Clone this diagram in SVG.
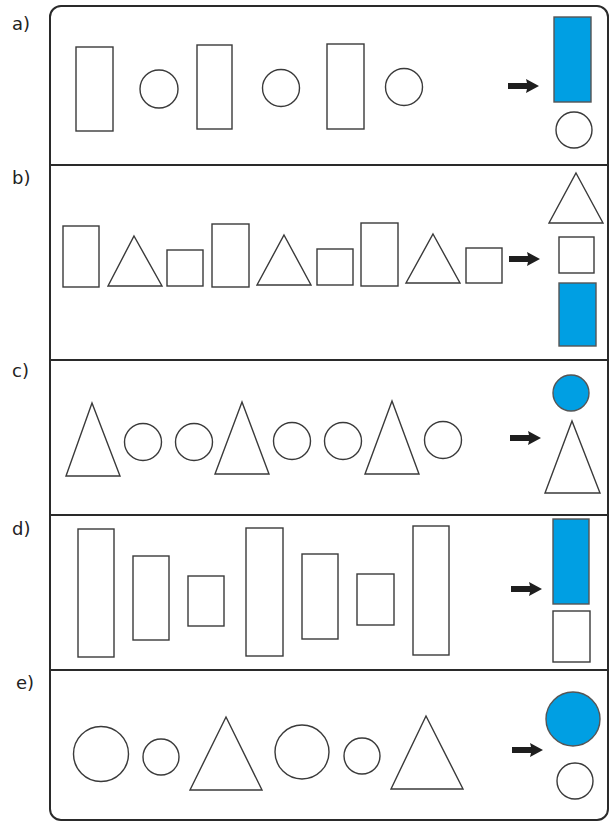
<svg xmlns="http://www.w3.org/2000/svg" width="613" height="822" viewBox="0 0 613 822">
<defs>
<style>
.s{fill:#fff;stroke:#3a3a3a;stroke-width:1.4}
.b{fill:#009fe3;stroke:#555;stroke-width:1.4}
.frame{fill:none;stroke:#2a2a2a;stroke-width:2}
.div{stroke:#2a2a2a;stroke-width:2}
.lbl{font-family:"DejaVu Sans","Liberation Sans",sans-serif;font-size:18px;fill:#222}
.arr{fill:#1e1e1e}
</style>
<g id="arrowShape"><path class="arr" d="M0,-3 L19,-3 L18,-7 L31,0 L18,7 L19,3 L0,3 Z"/></g>
</defs>
<rect width="613" height="822" fill="#fff"/>
<g id="frame">
<rect class="frame" x="50" y="6" width="558" height="814" rx="11" ry="11"/>
<line class="div" x1="50" y1="165" x2="608" y2="165"/>
<line class="div" x1="50" y1="360" x2="608" y2="360"/>
<line class="div" x1="50" y1="515" x2="608" y2="515"/>
<line class="div" x1="50" y1="670" x2="608" y2="670"/>
</g>
<g id="labels">
<text class="lbl" x="12" y="30">a)</text>
<text class="lbl" x="12" y="184">b)</text>
<text class="lbl" x="12" y="377">c)</text>
<text class="lbl" x="12" y="535">d)</text>
<text class="lbl" x="16" y="689">e)</text>
</g>
<g id="row-a">
<rect class="s" x="76" y="47" width="37" height="84"/>
<circle class="s" cx="159" cy="89" r="19"/>
<rect class="s" x="197" y="45" width="35" height="84"/>
<circle class="s" cx="281" cy="88" r="18.5"/>
<rect class="s" x="327" y="44" width="37" height="85"/>
<circle class="s" cx="404" cy="87" r="18.5"/>
<use href="#arrowShape" x="508" y="86"/>
<rect class="b" x="554" y="17" width="37" height="85"/>
<circle class="s" cx="574" cy="130" r="18"/>
</g>
<g id="row-b">
<rect class="s" x="63" y="226" width="36" height="61"/>
<polygon class="s" points="134,236 162,286 108,286"/>
<rect class="s" x="167" y="250" width="36" height="36"/>
<rect class="s" x="212" y="224" width="37" height="63"/>
<polygon class="s" points="284,235 311,285 257,285"/>
<rect class="s" x="317" y="249" width="36" height="36"/>
<rect class="s" x="361" y="223" width="37" height="63"/>
<polygon class="s" points="433,234 460,283 406,283"/>
<rect class="s" x="466" y="248" width="36" height="35"/>
<use href="#arrowShape" x="509" y="259"/>
<polygon class="s" points="576,173 603,223 549,223"/>
<rect class="s" x="559" y="237" width="35" height="36"/>
<rect class="b" x="559" y="283" width="37" height="63"/>
</g>
<g id="row-c">
<polygon class="s" points="92,403 120,476 66,476"/>
<circle class="s" cx="143" cy="442" r="18.5"/>
<circle class="s" cx="194" cy="442" r="18.5"/>
<polygon class="s" points="242,402 269,474 215,474"/>
<circle class="s" cx="292" cy="441" r="18.5"/>
<circle class="s" cx="343" cy="441" r="18.5"/>
<polygon class="s" points="392,401 419,474 365,474"/>
<circle class="s" cx="443" cy="440" r="18.5"/>
<use href="#arrowShape" x="510" y="438"/>
<circle class="b" cx="571" cy="393" r="18"/>
<polygon class="s" points="572,421 600,493 545,493"/>
</g>
<g id="row-d">
<rect class="s" x="78" y="529" width="36" height="128"/>
<rect class="s" x="133" y="556" width="36" height="84"/>
<rect class="s" x="188" y="576" width="36" height="50"/>
<rect class="s" x="246" y="528" width="37" height="128"/>
<rect class="s" x="302" y="554" width="36" height="85"/>
<rect class="s" x="357" y="574" width="37" height="51"/>
<rect class="s" x="413" y="526" width="36" height="129"/>
<use href="#arrowShape" x="511" y="589"/>
<rect class="b" x="553" y="519" width="36" height="85"/>
<rect class="s" x="553" y="611" width="37" height="51"/>
</g>
<g id="row-e">
<circle class="s" cx="101" cy="754" r="27.5"/>
<circle class="s" cx="161" cy="757" r="18"/>
<polygon class="s" points="226,717 262,790 190,790"/>
<circle class="s" cx="302" cy="752" r="27"/>
<circle class="s" cx="362" cy="756" r="18"/>
<polygon class="s" points="426,716 463,789 391,789"/>
<use href="#arrowShape" x="512" y="750"/>
<circle class="b" cx="573" cy="719" r="27"/>
<circle class="s" cx="575" cy="781" r="18"/>
</g>
</svg>
